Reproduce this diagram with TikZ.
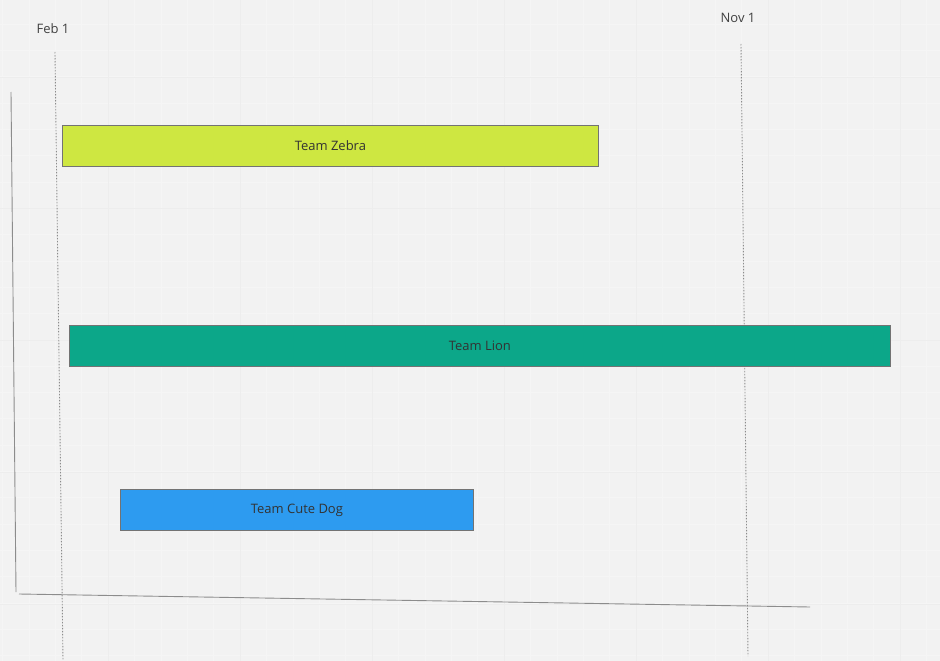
\documentclass[tikz,border=0pt]{standalone}
\usepackage{fontspec}
\setmainfont{Open Sans}
\begin{document}
\begin{tikzpicture}[x=1pt,y=-1pt,
  bar/.style={draw=black!55, line width=0.8pt, inner sep=0pt, minimum height=41pt, anchor=north west, text=black!80, font=\fontsize{13}{15}\selectfont},
  axisline/.style={draw=black!45, line width=0.9pt},
  dateline/.style={draw=black!45, line width=0.9pt, dash pattern=on 1.5pt off 1.5pt},
  datelabel/.style={text=black!75, font=\fontsize{13}{15}\selectfont, inner sep=0pt}]
\definecolor{bg}{HTML}{F2F2F2}
\definecolor{zebra}{HTML}{CEE741}
\definecolor{lion}{HTML}{0CA789}
\definecolor{dog}{HTML}{2D9BF0}
\fill[bg] (0,0) rectangle (940,661);
\useasboundingbox (0,0) rectangle (940,661);
% minor grid
\foreach \i in {0,...,36} {
  \draw[black!4, line width=0.6pt] ({2.4+26.4*\i},0) -- ({2.4+26.4*\i},661);
}
\foreach \i in {0,...,25} {
  \draw[black!4, line width=0.6pt] (0,{24.2+26.3*\i}) -- (940,{24.2+26.3*\i});
}
% major grid
\foreach \x in {108,240,372,504,636,768,900} {
  \draw[black!7, line width=0.8pt] (\x,0) -- (\x,661);
}
\foreach \y in {77,208,340,472,604} {
  \draw[black!7, line width=0.8pt] (0,\y) -- (940,\y);
}
% axes
\coordinate (ytop) at (11,92);
\coordinate (ybot) at (16,592);
\coordinate (xl) at (19,594);
\coordinate (xr) at (810,607);
\draw[axisline] (ytop) -- (ybot);
\draw[axisline] (xl) -- (xr);
% date lines
\node[datelabel] (feb) at (53,29) {Feb 1};
\node[datelabel] (nov) at (738,18) {Nov 1};
\coordinate (febtop) at (55,52);
\coordinate (febbot) at (63,660);
\coordinate (novtop) at (741,44);
\coordinate (novbot) at (748,656);
\draw[dateline] (febtop) -- (febbot);
\draw[dateline] (novtop) -- (novbot);
% bars
\node[bar, fill=zebra, minimum width=536pt] (zebrab) at (62,125) {};
\node[text=black!80, font=\fontsize{13}{15}\selectfont] (zebrat) at (zebrab.center) {Team Zebra};
\node[bar, fill=lion, minimum width=821pt] (lionb) at (69,325) {};
\node[text=black!80, font=\fontsize{13}{15}\selectfont] (liont) at (lionb.center) {Team Lion};
\node[bar, fill=dog, minimum width=353pt] (dogb) at (120,489) {};
\node[text=black!80, font=\fontsize{13}{15}\selectfont] (dogt) at (dogb.center) {Team Cute Dog};
\end{tikzpicture}
\end{document}
